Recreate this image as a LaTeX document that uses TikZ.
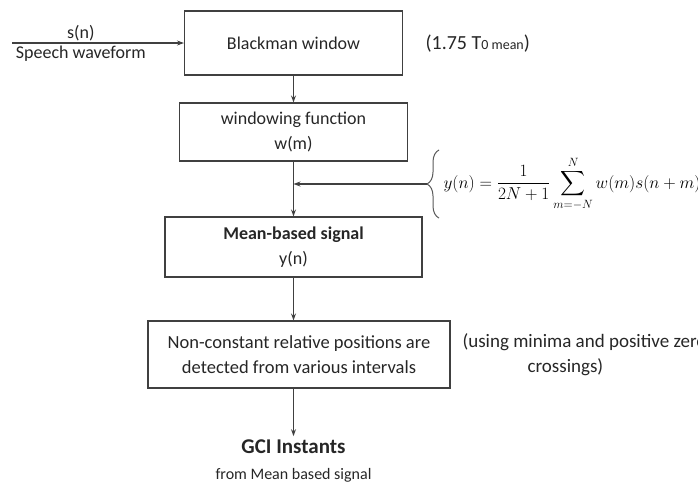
\documentclass[tikz,border=0pt]{standalone}
\usepackage{amsmath}
\usepackage{fontspec}
\setmainfont{Carlito}
\usetikzlibrary{positioning,arrows.meta,decorations.pathreplacing}

\begin{document}
\begin{tikzpicture}[>={Stealth[length=7pt,width=5pt]},node distance=2cm,on grid,
    line width=1.1pt,
    block/.style={draw=black!75,align=center,inner sep=0pt,text=black!85,
      font=\fontsize{18}{25}\selectfont},
    note/.style={anchor=west,align=left,inner sep=0pt,text=black!85,
      font=\fontsize{19}{25}\selectfont},
    brace/.style={decorate,decoration={brace,amplitude=12pt},draw=black!65,line width=1pt}]
	   \useasboundingbox (0,0) rectangle (698pt,-483pt);
	   \node[block,minimum width=218pt,minimum height=64pt] (blackman) at (293.5pt,-43pt) {Blackman window};
	   \node[block,minimum width=228pt,minimum height=58pt] (winfn) [below=89pt of blackman] {windowing function\\w(m)};
	   \node[block,minimum width=257pt,minimum height=60pt] (mean) [below=115pt of winfn] {\textbf{Mean-based signal}\\y(n)};
	   \node[block,minimum width=302pt,minimum height=67pt,font=\fontsize{18.5}{25}\selectfont] (detect) [below right=107.5pt and 5.5pt of mean]
	        {Non-constant relative positions are\\detected from various intervals};
	   \node[text=black!85,font=\bfseries\fontsize{21}{25}\selectfont] (gci) [below left=92.5pt and 5.5pt of detect] {GCI Instants};
	   \node[text=black!85,font=\fontsize{16}{20}\selectfont] (gcisrc) [below=28pt of gci] {from Mean based signal};
	   % side notes
	   \node[note,font=\fontsize{20}{25}\selectfont] (winlen) at (425pt,-44pt) {(1.75 T{\fontsize{14}{16}\selectfont 0 mean})};
	   \node[note] (zeroc) at (462pt,-355pt) {(using minima and positive zero\\\hspace*{65pt}crossings)};
	   \node[anchor=west,inner sep=0pt,minimum height=67pt,font=\fontsize{18.4}{20}\selectfont] (formula) at (443pt,-184pt)
	        {$\displaystyle y(n)=\frac{1}{2N+1}\sum_{m=-N}^{N}w(m)s(n+m)$};
	   \draw[brace] ([xshift=-4pt]formula.south west) -- ([xshift=-4pt]formula.north west);
	   \coordinate (bracetip) at ([xshift=-16pt]formula.west);
	   \coordinate (speech) at (12pt,-43pt);
	    \path[->,every edge/.append style={draw=black!75}]
	    (speech) edge node[pos=0.4,above,inner sep=1pt,text=black!85,font=\fontsize{18}{22}\selectfont] {s(n)}
	                  node[pos=0.4,below,inner sep=2pt,text=black!85,font=\fontsize{18}{22}\selectfont] {Speech waveform} (blackman)
	    (blackman) edge (winfn)
	    (winfn) edge (mean)
	    (bracetip) edge (bracetip -| winfn.south)
	    (mean.south) edge (mean.south |- detect.north)
	    (gci.north |- detect.south) edge (gci.north);
	\end{tikzpicture}
\end{document}
